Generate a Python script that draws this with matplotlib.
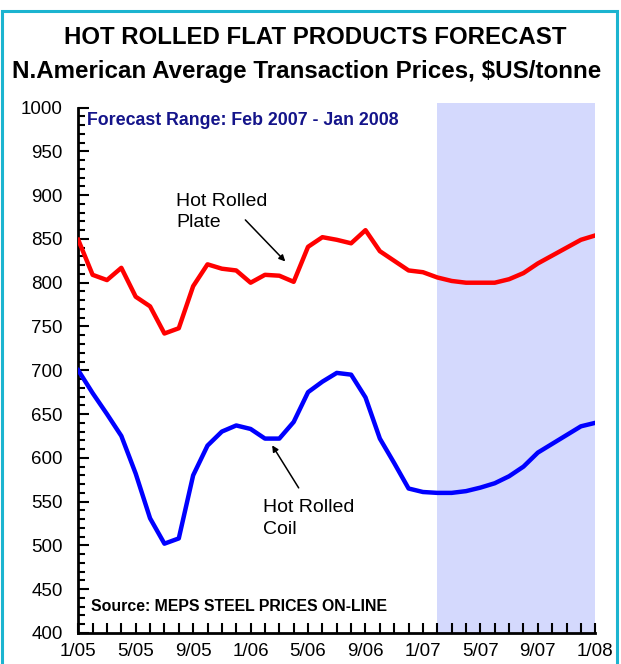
import matplotlib.pyplot as plt
from matplotlib.patches import Rectangle

# monthly prices, 1/05 .. 1/08
months = list(range(37))
plate = [849, 809, 803, 817, 784, 773, 742, 748, 796, 821, 816, 814, 800,
         809, 808, 801, 841, 852, 849, 845, 860, 836, 825, 814, 812,
         806, 802, 800, 800, 800, 804, 811, 822, 831, 840, 849, 854]
coil = [700, 674, 650, 625, 582, 531, 502, 508, 580, 614, 630, 637, 633,
        622, 622, 641, 675, 687, 697, 695, 669, 622, 594, 565, 561,
        560, 560, 562, 566, 571, 579, 590, 606, 616, 626, 636, 640]
tick_labels = ['1/05', '5/05', '9/05', '1/06', '5/06', '9/06',
               '1/07', '5/07', '9/07', '1/08']
forecast_start, forecast_end = 25, 36

plt.rcParams['font.family'] = ['Liberation Sans', 'DejaVu Sans']

fig = plt.figure(figsize=(6.21, 6.64), dpi=100)
ax = fig.add_axes([0.126, 0.0467, 0.8326, 0.7913])

ax.axvspan(forecast_start, forecast_end, ymin=0, ymax=1.008, color='#d4d9fd',
           lw=0, clip_on=False, zorder=0)
ax.plot(months, plate, color='#ff0000', lw=3.2, zorder=3)
ax.plot(months, coil, color='#0000ff', lw=3.2, zorder=3)

ax.set_xlim(0, 36)
ax.set_ylim(400, 1000)
ax.set_xticks(range(0, 37, 4))
ax.set_xticklabels(tick_labels)
ax.set_xticks(range(37), minor=True)
ax.set_yticks(range(400, 1001, 50))
ax.set_yticks(range(400, 1001, 10), minor=True)
ax.tick_params(axis='both', which='both', direction='in', labelsize=13.5,
               width=1.5, colors='black')
ax.tick_params(axis='y', which='major', length=8, pad=11)
ax.tick_params(axis='y', which='minor', length=5)
ax.tick_params(axis='x', which='both', length=7, pad=7)
for s in ['top', 'right']:
    ax.spines[s].set_visible(False)
for s in ['left', 'bottom']:
    ax.spines[s].set_linewidth(2)

ax.text(0.6, 985, 'Forecast Range: Feb 2007 - Jan 2008', color='#14148a',
        fontsize=12.8, fontweight='bold', va='center')
ax.text(0.9, 430, 'Source: MEPS STEEL PRICES ON-LINE', color='black',
        fontsize=11.4, fontweight='bold', va='center')

ax.annotate('', xy=(14.55, 822), xytext=(11.5, 874),
            arrowprops=dict(arrowstyle='-|>', color='black', lw=1.1,
                            mutation_scale=9))
ax.text(6.8, 881, 'Hot Rolled\nPlate', fontsize=14, va='center',
        linespacing=1.35)
ax.annotate('', xy=(13.4, 617), xytext=(15.45, 563),
            arrowprops=dict(arrowstyle='-|>', color='black', lw=1.1,
                            mutation_scale=9))
ax.text(12.85, 531, 'Hot Rolled\nCoil', fontsize=14, va='center',
        linespacing=1.35)

fig.text(0.507, 0.944, 'HOT ROLLED FLAT PRODUCTS FORECAST', ha='center',
         va='center', fontsize=17.3, fontweight='bold')
fig.text(0.493, 0.893, 'N.American Average Transaction Prices, $US/tonne',
         ha='center', va='center', fontsize=17.4, fontweight='bold')

# cyan frame around the chart
fig.patches.append(Rectangle((0.004, -0.05), 0.99, 1.033, transform=fig.transFigure,
                             fill=False, edgecolor='#1cb4d0', lw=2.2))

fig.savefig('out.png', dpi=100)
